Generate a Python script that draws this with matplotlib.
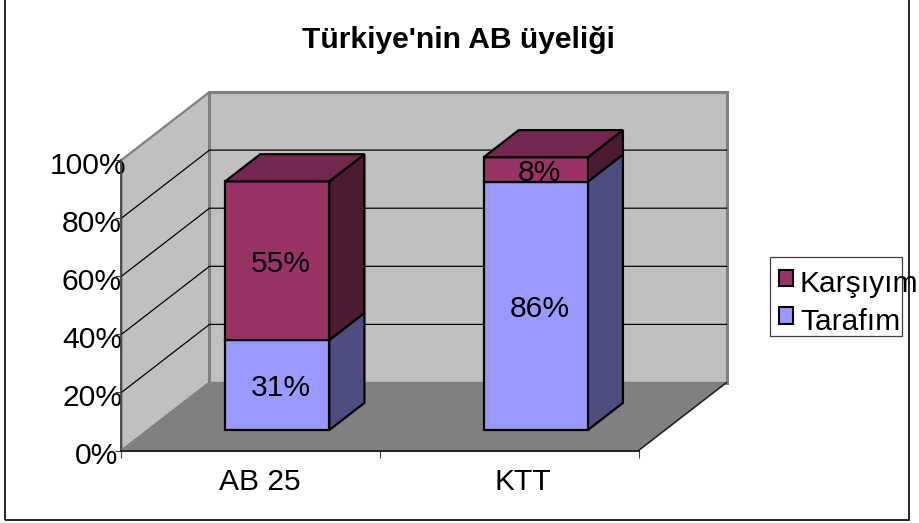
import matplotlib
matplotlib.use("Agg")
import matplotlib.pyplot as plt
from matplotlib.patches import Polygon, Rectangle, Patch
from matplotlib.transforms import ScaledTranslation

plt.rcParams['font.family'] = ['Liberation Sans', 'DejaVu Sans']

title = "Türkiye'nin AB üyeliği"
categories = ["AB 25", "KTT"]
tarafim = [31, 85.5]
karsiyim = [54.6, 8.4]
yticks = [0, 20, 40, 60, 80, 100]
series_names = ["Tarafım", "Karşıyım"]

W, H = 920, 523
RED, RED_SIDE, RED_TOP = "#993366", "#4D1A33", "#732650"
BLUE, BLUE_SIDE = "#9999FF", "#4D4D80"
WALL, FLOOR, EDGE = "#C0C0C0", "#808080", "#808080"
FS = 21.6
LW = 1.1

fig = plt.figure(figsize=(W / 100, H / 100), dpi=100, facecolor="white")
X0, X1, Y0, Y1 = 121.5, 638.5, 450.5, 160
ax = fig.add_axes([X0 / W, 1 - Y0 / H, (X1 - X0) / W, (Y0 - Y1) / H])
ax.set_xlim(0, len(categories))
ax.set_ylim(0, 100)
ax.patch.set_alpha(0)

def px(dx, dy):
    """Offset in screen pixels (x right, y down)."""
    return ScaledTranslation(dx / 100, -dy / 100, fig.dpi_scale_trans)

# oblique projection: depth 0..1 shifts points in data units
DX = 88 / ((X1 - X0) / len(categories))
DY = 68 / ((Y0 - Y1) / 100)
def pr(x, y, d):
    return (x + DX * d, y + DY * d)

def face(pts, fc, ec="black", lw=1.6, z=5):
    ax.add_patch(Polygon([pr(*p) for p in pts], closed=True, facecolor=fc,
                         edgecolor=ec, linewidth=lw, zorder=z, clip_on=False,
                         joinstyle="miter"))

n = len(categories)
# walls and floor
face([(0, 0, 0), (0, 0, 1), (0, 100, 1), (0, 100, 0)], WALL, EDGE, 1.6, 1)
face([(0, 0, 1), (n, 0, 1), (n, 100, 1), (0, 100, 1)], WALL, EDGE, 2.2, 1)
face([(0, 0, 0), (n, 0, 0), (n, 0, 1), (0, 0, 1)], FLOOR, EDGE, 1, 1.5)
a, b = pr(n, 0, 0), pr(n, 0, 1)
ax.plot([a[0], b[0]], [a[1], b[1]], color="#202020", lw=LW, zorder=2, clip_on=False)

# gridlines on back wall and side wall
for v in yticks[1:-1]:
    a, b, c = pr(0, v, 0), pr(0, v, 1), pr(n, v, 1)
    ax.plot([a[0], b[0], c[0]], [a[1], b[1], c[1]], color="black", lw=LW * 0.8,
            zorder=2, clip_on=False)

# stacked 3D bars
BW = 0.403
D0, D1 = 0.30, 0.70
for i, cat in enumerate(categories):
    x0 = i + 0.5 - BW / 2
    x1 = i + 0.5 + BW / 2
    base = 0
    for vals, front, side, top in ((tarafim, BLUE, BLUE_SIDE, BLUE), (karsiyim, RED, RED_SIDE, RED_TOP)):
        v = vals[i]
        t = base + v
        face([(x1, base, D0), (x1, base, D1), (x1, t, D1), (x1, t, D0)], side, z=5)
        face([(x0, base, D0), (x1, base, D0), (x1, t, D0), (x0, t, D0)], front, z=6)
        if vals is karsiyim:
            face([(x0, t, D0), (x1, t, D0), (x1, t, D1), (x0, t, D1)], top, z=6)
        cx, cy = pr((x0 + x1) / 2, base + v / 2, D0)
        ax.text(cx, cy, f"{v:.0f}%", ha="center", va="center", fontsize=FS, color="black",
                zorder=7, clip_on=False, transform=ax.transData + px(4, 3))
        base = t

# axes furniture
for s in ("top", "right"):
    ax.spines[s].set_visible(False)
ax.spines["left"].set_linewidth(1.2)
ax.spines["left"].set_color("#404040")
ax.spines["bottom"].set_linewidth(1.4)
ax.spines["bottom"].set_color("#202020")
for s in ax.spines.values():
    s.set_zorder(3)
ax.set_yticks(yticks)
ax.set_yticklabels([f"{v}%" for v in yticks], fontsize=FS)
ax.set_xticks(range(n + 1))
ax.set_xticklabels([""] * (n + 1))
ax.set_xticks([i + 0.5 for i in range(n)], minor=True)
ax.set_xticklabels(categories, minor=True, fontsize=FS)
ax.tick_params(axis="x", which="major", length=5, width=0.8, color="#404040")
ax.tick_params(axis="x", which="minor", length=0, pad=12.5)
ax.tick_params(axis="y", length=4, width=0.8, color="#404040", pad=-3)

for lab, dx in zip(ax.get_yticklabels(), [-2, 2, 2, 2, 2, 6]):
    lab.set_transform(lab.get_transform() + px(dx, 2.5))
for lab, dx in zip(ax.xaxis.get_ticklabels(minor=True), [9, 14]):
    lab.set_transform(lab.get_transform() + px(dx, 0))

# title
fig.text(458 / W, 1 - 40 / H, title, ha="center", va="center", fontsize=FS, fontweight="bold")

# outer chart frame (its top edge lies outside the picture)
fig.add_artist(Rectangle((4.7 / W, 1 - 519.8 / H), (909 - 4.7) / W, (519.8 + 3) / H,
                         transform=fig.transFigure, fill=False, edgecolor="black", linewidth=1.2))

# legend frame and entries
fig.add_artist(Rectangle((770 / W, 1 - 336 / H), 132 / W, 79 / H, transform=fig.transFigure,
                         fill=False, edgecolor="#404040", linewidth=0.9))
handles = [Patch(facecolor=RED, edgecolor="black", linewidth=1.5, label=series_names[1]),
           Patch(facecolor=BLUE, edgecolor="black", linewidth=1.5, label=series_names[0])]
leg = fig.legend(handles=handles, loc="upper left", bbox_to_anchor=(779 / W, 1 - 270 / H), frameon=False,
                 fontsize=FS, handlelength=0.48, handleheight=0.48, handletextpad=0.22, labelspacing=0.32,
                 borderpad=0, borderaxespad=0)
for p in leg.get_patches():
    p.set_y(p.get_y() + 2.5)

fig.savefig("out.png", dpi=100)
